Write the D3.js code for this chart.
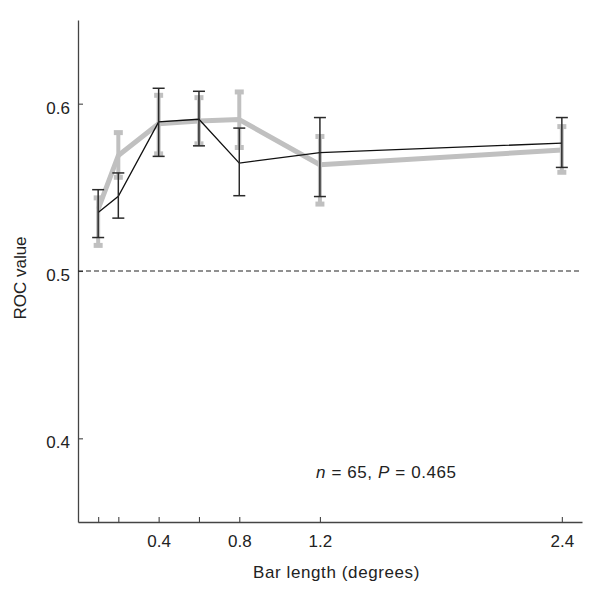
<!DOCTYPE html>
<html><head><meta charset="utf-8">
<script src="https://cdn.jsdelivr.net/npm/d3@7"></script>
<style>body{margin:0;background:#fff}svg{display:block}text{font-family:"Liberation Sans",Arial,sans-serif;fill:#222}</style>
</head><body><div id="chart"></div>
<script>
const barLength = [0.1, 0.2, 0.4, 0.6, 0.8, 1.2, 2.4];
const grayMean  = [0.537, 0.569, 0.588, 0.5897, 0.5905, 0.5635, 0.5723];
const grayHigh  = [0.5437, 0.5827, 0.605, 0.6036, 0.607, 0.5804, 0.5863];
const grayLow   = [0.5153, 0.556, 0.570, 0.576, 0.5738, 0.540, 0.559];
const blackMean = [0.535, 0.5446, 0.5891, 0.5907, 0.5645, 0.5708, 0.5764];
const blackHigh = [0.5486, 0.5586, 0.6092, 0.6074, 0.5854, 0.5917, 0.5917];
const blackLow  = [0.520, 0.5316, 0.5685, 0.5748, 0.545, 0.5445, 0.5619];
const xTicks = [0.1, 0.2, 0.4, 0.6, 0.8, 1.2, 2.4];
const xTickLabels = {0.4: "0.4", 0.8: "0.8", 1.2: "1.2", 2.4: "2.4"};
const yTicks = [0.4, 0.5, 0.6];

const W = 601, H = 591;
const m = {left: 78, right: 19, top: 20, bottom: 69};
const svg = d3.select("#chart").append("svg").attr("width", W).attr("height", H);
const x = d3.scaleLinear().domain([0, 2.5]).range([m.left, W - m.right]);
const y = d3.scaleLinear().domain([0.35, 0.65]).range([H - m.bottom, m.top]);

// axes
const xAxis = svg.append("g").attr("transform", `translate(0,${H - m.bottom})`)
  .call(d3.axisBottom(x).tickValues(xTicks).tickSize(-5).tickSizeOuter(0)
    .tickFormat(d => xTickLabels[d] || ""));
xAxis.select(".domain").attr("stroke", "#444").attr("stroke-width", 1.3);
xAxis.selectAll(".tick line").attr("stroke", "#444").attr("stroke-width", 1.1);
xAxis.selectAll(".tick text").attr("font-size", 17).attr("dy", 0).attr("y", 25).attr("fill", "#222");

const yAxis = svg.append("g").attr("transform", `translate(${m.left},0)`)
  .call(d3.axisLeft(y).tickValues(yTicks).tickSize(-5).tickSizeOuter(0).tickFormat(d3.format(".1f")));
yAxis.select(".domain").attr("stroke", "#444").attr("stroke-width", 1.3);
yAxis.selectAll(".tick line").attr("stroke", "#444").attr("stroke-width", 1.1);
yAxis.selectAll(".tick text").attr("font-size", 17).attr("x", -8).attr("dy", 0).attr("y", 9.5).attr("fill", "#222");

// dashed reference line
svg.append("line").attr("x1", x(0)).attr("x2", x(2.5)).attr("y1", y(0.5)).attr("y2", y(0.5))
  .attr("stroke", "#222").attr("stroke-width", 1.1).attr("stroke-dasharray", "5,3");

const idx = d3.range(barLength.length);

// gray series
const gray = "#c0c0c0";
svg.append("path").datum(idx).attr("fill", "none").attr("stroke", gray).attr("stroke-width", 5)
  .attr("stroke-linejoin", "round")
  .attr("d", d3.line().x(i => x(barLength[i])).y(i => y(grayMean[i])));
const gE = svg.append("g");
idx.forEach(i => {
  const cx = x(barLength[i]);
  gE.append("line").attr("x1", cx).attr("x2", cx).attr("y1", y(grayHigh[i])).attr("y2", y(grayLow[i]))
    .attr("stroke", gray).attr("stroke-width", 4);
  [grayHigh[i], grayLow[i]].forEach(v => {
    gE.append("line").attr("x1", cx - 4.5).attr("x2", cx + 4.5).attr("y1", y(v)).attr("y2", y(v))
      .attr("stroke", gray).attr("stroke-width", 5);
  });
});

// black series
const dark = "#2a2a2a";
svg.append("path").datum(idx).attr("fill", "none").attr("stroke", "#111").attr("stroke-width", 1.3)
  .attr("d", d3.line().x(i => x(barLength[i])).y(i => y(blackMean[i])));
const bE = svg.append("g");
idx.forEach(i => {
  const cx = x(barLength[i]);
  bE.append("line").attr("x1", cx).attr("x2", cx).attr("y1", y(blackHigh[i])).attr("y2", y(blackLow[i]))
    .attr("stroke", dark).attr("stroke-width", 1.5);
  [blackHigh[i], blackLow[i]].forEach(v => {
    bE.append("line").attr("x1", cx - 6).attr("x2", cx + 6).attr("y1", y(v)).attr("y2", y(v))
      .attr("stroke", dark).attr("stroke-width", 1.5);
  });
});

// labels
svg.append("text").attr("x", 336.5).attr("y", 578).attr("text-anchor", "middle")
  .attr("font-size", 17).attr("letter-spacing", 0.6).text("Bar length (degrees)");
svg.append("text").attr("transform", `translate(26,278) rotate(-90)`).attr("text-anchor", "middle")
  .attr("font-size", 17).text("ROC value");

const ann = svg.append("text").attr("x", 316).attr("y", 478).attr("font-size", 17).attr("letter-spacing", 0.6);
ann.append("tspan").attr("font-style", "italic").text("n");
ann.append("tspan").text(" = 65, ");
ann.append("tspan").attr("font-style", "italic").text("P");
ann.append("tspan").text(" = 0.465");
</script></body></html>
